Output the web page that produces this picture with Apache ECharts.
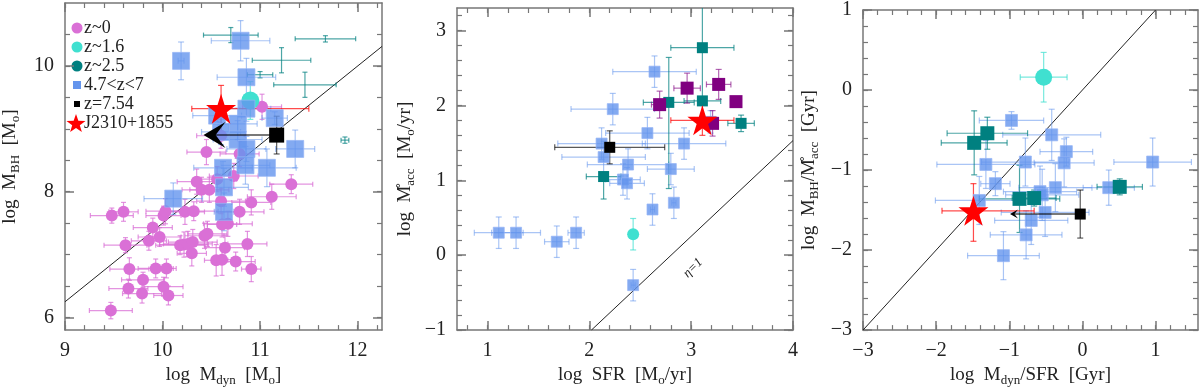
<!DOCTYPE html>
<html>
<head>
<meta charset="utf-8">
<script src="https://cdn.jsdelivr.net/npm/echarts@6/dist/echarts.min.js"></script>
<style>
html, body { margin: 0; padding: 0; background: #fff; }
#chart { width: 1200px; height: 392px; }
</style>
</head>
<body>
<div id="chart"></div>
<script>
// rows are [x, y, ex, ey] or [x, y, ex-, ex+, ey-, ey+]

// panel 1 : log Mdyn vs log MBH
const p1Local = [
  [9.47, 6.11, 0.22, 0.13], [9.48, 7.62, 0.22, 0.12], [9.60, 7.68, 0.15, 0.15], [9.62, 7.15, 0.22, 0.12],
  [9.65, 6.46, 0.20, 0.15], [9.66, 6.77, 0.20, 0.18], [9.79, 6.38, 0.20, 0.15], [9.80, 6.60, 0.22, 0.12],
  [9.86, 7.22, 0.18, 0.15], [9.90, 7.43, 0.20, 0.15], [9.93, 6.78, 0.18, 0.15], [9.97, 7.28, 0.22, 0.15],
  [10.01, 6.49, 0.20, 0.15], [10.01, 7.62, 0.18, 0.15], [10.03, 7.69, 0.20, 0.20], [10.04, 6.78, 0.10, 0.15],
  [10.06, 6.35, 0.15, 0.15], [10.18, 7.15, 0.25, 0.15], [10.22, 7.16, 0.25, 0.20], [10.23, 7.68, 0.20, 0.20],
  [10.26, 7.17, 0.25, 0.20], [10.30, 7.02, 0.15, 0.20], [10.31, 7.20, 0.25, 0.20], [10.32, 7.69, 0.25, 0.15],
  [10.35, 8.16, 0.20, 0.20], [10.40, 8.03, 0.20, 0.20], [10.43, 7.30, 0.20, 0.20], [10.46, 7.33, 0.20, 0.20],
  [10.45, 8.63, 0.20, 0.20], [10.48, 8.03, 0.20, 0.20], [10.55, 6.91, 0.12, 0.25], [10.56, 8.20, 0.20, 0.20],
  [10.60, 7.85, 0.25, 0.20], [10.60, 8.89, 0.25, 0.20], [10.61, 6.92, 0.10, 0.25], [10.61, 7.48, 0.15, 0.20],
  [10.64, 7.11, 0.20, 0.20], [10.67, 7.49, 0.25, 0.20], [10.73, 8.25, 0.25, 0.20], [10.75, 6.89, 0.20, 0.15],
  [10.79, 7.68, 0.25, 0.20], [10.79, 8.60, 0.20, 0.20], [10.87, 7.17, 0.20, 0.20], [10.91, 6.77, 0.10, 0.20],
  [10.91, 7.83, 0.20, 0.20], [11.02, 9.35, 0.20, 0.20], [11.12, 7.92, 0.25, 0.20], [11.32, 8.12, 0.22, 0.15]
];
const p1Z16 = [[10.90, 9.45, 0.05, 0.30]];
const p1Z25 = [
  [10.70, 10.49, 0.28, 0.12], [11.67, 10.43, 0.31, 0.05], [11.22, 10.09, 0.30, 0.20],
  [11.00, 9.86, 0.13, 0.05], [11.46, 9.70, 0.32, 0.20], [11.87, 8.82, 0.04, 0.05]
];
const p1HighZ = [
  [10.19, 10.08, 0.03, 0.30], [10.80, 10.40, 0.30, 0.32], [10.86, 9.82, 0.30, 0.30], [10.86, 9.32, 0.25, 0.20],
  [11.15, 9.17, 0.13, 0.10], [10.56, 9.21, 0.25, 0.10], [10.77, 9.08, 0.20, 0.25], [10.60, 8.95, 0.20, 0.20],
  [10.77, 8.83, 0.25, 0.30], [10.86, 8.68, 0.20, 0.20], [11.36, 8.68, 0.20, 0.30], [10.62, 8.38, 0.30, 0.10],
  [10.85, 8.42, 0.25, 0.30], [11.07, 8.38, 0.30, 0.30], [10.63, 8.07, 0.25, 0.30], [10.11, 7.89, 0.30, 0.25],
  [10.63, 7.68, 0.10, 0.30]
];
const p1Z754 = [[11.17, 8.90, 0, 0, 0.30, 0.30]];
const p1Z754Limit = [[11.17, 8.90, 10.42]];
const p1J2310 = [[10.60, 9.32, 0.30, 0.90, 0.43, 0.37]];
const p1Relation = [[9, 6.25], [12.25, 10.31]];

// panel 2 : log SFR vs log Macc
const p2Z16 = [[2.43, 0.28, 0.02, 0.21]];
const p2Z25 = [
  [3.11, 2.77, 0.31, 0.31, 0.70, 0.55], [2.78, 2.04, 0.25, 0.25, 1.15, 0.60], [3.11, 2.06, 0.18, 0.05],
  [3.49, 1.76, 0.13, 0.11], [2.14, 1.05, 0.17, 0.17, 0.30, 0.05]
];
const p2HighZ = [
  [2.64, 2.45, 0.41, 0.21], [2.23, 1.95, 0.41, 0.21], [2.57, 1.63, 0.41, 0.21], [2.93, 1.49, 0.41, 0.21],
  [2.12, 1.49, 0.43, 0.21], [2.14, 1.31, 0.41, 0.21], [2.38, 1.21, 0.40, 0.21], [2.80, 1.15, 0.23, 0.21],
  [2.33, 1.01, 0.17, 0.21], [2.37, 0.96, 0.17, 0.21], [2.62, 0.61, 0.02, 0.21], [2.83, 0.70, 0.02, 0.21],
  [2.43, -0.40, 0.02, 0.21], [1.11, 0.30, 0.24, 0.21], [1.28, 0.30, 0.24, 0.21], [1.68, 0.18, 0.12, 0.21],
  [1.87, 0.30, 0.08, 0.21], [3.19, 1.78, 0.05, 0.15]
];
const p2Quasars = [
  [2.96, 2.23, 0.13, 0.20], [3.27, 2.28, 0.12, 0.20], [3.44, 2.05, 0, 0], [2.69, 2.01, 0.08, 0.18],
  [3.21, 1.76, 0.02, 0.17]
];
const p2Z754 = [[2.20, 1.44, 0.54, 0.22]];
const p2J2310 = [[3.11, 1.80, 0.31, 0.20]];
const p2Eddington = [[2.02, -1], [4, 1.53]];

// panel 3 : log Mdyn/SFR vs log MBH/Macc
const p3Z16 = [[-0.53, 0.16, 0.32, 0.31]];
const p3Z25 = [
  [-1.30, -0.54, 0.55, 0.20], [-1.48, -0.66, 0.45, 0.40], [-0.86, -1.36, 0.55, 0.42],
  [-0.66, -1.35, 0.30, 0.10], [0.51, -1.21, 0.31, 0.10]
];
const p3HighZ = [
  [-0.97, -0.38, 0.44, 0.11], [-0.42, -0.56, 0.67, 0.32], [-0.22, -0.77, 0.36, 0.18], [-1.32, -0.93, 0.67, 0.30],
  [-0.78, -0.90, 0.60, 0.30], [-0.25, -0.91, 0.41, 0.30], [0.96, -0.90, 0.53, 0.30], [-1.19, -1.17, 0.20, 0.15],
  [0.36, -1.22, 0.35, 0.22], [-0.37, -1.22, 0.50, 0.30], [-0.58, -1.27, 0.50, 0.32], [-0.55, -1.31, 0.50, 0.32],
  [-0.51, -1.53, 0.60, 0.30], [-0.70, -1.63, 0.50, 0.30], [-0.77, -1.81, 0.49, 0.30], [-1.08, -2.07, 0.49, 0.30],
  [-1.41, -1.38, 0.60, 0.30]
];
const p3Z754 = [[-0.03, -1.55, 0, 0, 0.30, 0.30]];
const p3Z754Limit = [[-0.03, -1.55, -0.99]];
const p3J2310 = [[-1.49, -1.51, 0.43, 0.83, 0.38, 0.34]];
const p3OneToOne = [[-3, -3], [1, 1]];

// tick labels
const p1XLabels = [9, 10, 11, 12];
const p1YLabels = [6, 8, 10];
const p2XLabels = [1, 2, 3, 4];
const p2YLabels = [-1, 0, 1, 2, 3];
const p3XLabels = [-3, -2, -1, 0, 1];
const p3YLabels = [-3, -2, -1, 0, 1];

const COL = {
  local: '#da70d6', localErr: 'rgba(218,112,214,0.75)',
  z16: '#40e0d0', z16Err: 'rgba(64,224,208,0.7)',
  z25: '#008080', z25Err: 'rgba(0,128,128,0.7)',
  highz: '#6495ed', highzErr: 'rgba(100,149,237,0.55)',
  qso: '#800080', qsoErr: 'rgba(128,0,128,0.6)',
  black: '#000', blackErr: 'rgba(0,0,0,0.65)',
  star: '#ff0000', starErr: 'rgba(255,0,0,0.7)'
};
const SERIF = 'Liberation Serif';
const STAR = 'path://M50,0 L61.2,34.5 L97.6,34.5 L68.2,55.9 L79.4,90.5 L50,69.1 L20.6,90.5 L31.8,55.9 L2.4,34.5 L38.8,34.5 Z';

function norm(rows) {
  return rows.map(r => r.length === 4 ? [r[0], r[1], r[2], r[2], r[3], r[3]] : r.slice());
}

function range(a, b, step) {
  const out = [];
  for (let v = a; v <= b + 1e-9; v += step) out.push(Math.round(v * 1000) / 1000);
  return out;
}

const fmt = v => (v < 0 ? '\u2212' + (-v) : String(v));

// four axes per side: main (labels + long ticks), minor ticks, mirrored long, mirrored minor
function makeAxes(grid, pos, opp, min, max, labels, minors, name, nameGap) {
  const line = { show: true, onZero: false, lineStyle: { color: '#777', width: 1.5 } };
  const base = { type: 'value', gridIndex: grid, min: min, max: max, splitLine: { show: false } };
  const main = Object.assign({}, base, {
    position: pos, axisLine: line,
    axisTick: { inside: true, length: 9, customValues: labels, lineStyle: { color: '#777', width: 1.5 } },
    axisLabel: { customValues: labels, formatter: fmt, fontFamily: SERIF, fontSize: 20, color: '#222', margin: 11 },
    name: name, nameLocation: 'middle', nameGap: nameGap,
    nameTextStyle: {
      fontFamily: SERIF,
      rich: {
        t: { fontFamily: SERIF, fontSize: 19, color: '#222' },
        s: { fontFamily: SERIF, fontSize: 13, color: '#222', padding: [10, 0, 0, 0] }
      }
    }
  });
  if (pos === 'left') main.nameRotate = 90;
  const minor = Object.assign({}, base, {
    position: pos, axisLine: { show: false, onZero: false },
    axisTick: { inside: true, length: 5, customValues: minors, lineStyle: { color: '#777', width: 1.2 } },
    axisLabel: { show: false }
  });
  const mirror = Object.assign({}, base, {
    position: opp, axisLine: line,
    axisTick: { inside: true, length: 9, customValues: labels, lineStyle: { color: '#777', width: 1.5 } },
    axisLabel: { show: false }
  });
  const mirrorMinor = Object.assign({}, minor, { position: opp });
  return [main, minor, mirror, mirrorMinor];
}

function errorRender(color, capHalf) {
  return function (params, api) {
    const x = api.value(0), y = api.value(1);
    const exm = api.value(2), exp = api.value(3), eym = api.value(4), eyp = api.value(5);
    const style = { stroke: color, lineWidth: 1.2 };
    const kids = [];
    const seg = (a, b) => kids.push({ type: 'line', shape: { x1: a[0], y1: a[1], x2: b[0], y2: b[1] }, style: style });
    if (exm > 0 || exp > 0) {
      const a = api.coord([x - exm, y]), b = api.coord([x + exp, y]);
      seg(a, b);
      seg([a[0], a[1] - capHalf], [a[0], a[1] + capHalf]);
      seg([b[0], b[1] - capHalf], [b[0], b[1] + capHalf]);
    }
    if (eym > 0 || eyp > 0) {
      const a = api.coord([x, y - eym]), b = api.coord([x, y + eyp]);
      seg(a, b);
      seg([a[0] - capHalf, a[1]], [a[0] + capHalf, a[1]]);
      seg([b[0] - capHalf, b[1]], [b[0] + capHalf, b[1]]);
    }
    return { type: 'group', children: kids };
  };
}

function limitRender(w, h) {
  return function (params, api) {
    const s = api.coord([api.value(0), api.value(1)]);
    const t = api.coord([api.value(2), api.value(1)]);
    return {
      type: 'group',
      children: [
        { type: 'line', shape: { x1: s[0], y1: s[1], x2: t[0] + w * 0.5, y2: t[1] }, style: { stroke: 'rgba(0,0,0,0.7)', lineWidth: 1.5 } },
        {
          type: 'polygon',
          shape: { points: [[t[0], t[1]], [t[0] + w, t[1] - h / 2], [t[0] + w * 0.55, t[1]], [t[0] + w, t[1] + h / 2]] },
          style: { fill: '#000' }
        }
      ]
    };
  };
}

function group(axisIdx, name, rows, symbol, size, color, errColor, cap, extra) {
  const out = [{
    type: 'custom', name: name, xAxisIndex: axisIdx, yAxisIndex: axisIdx, clip: true,
    renderItem: errorRender(errColor, cap), data: norm(rows), encode: { x: 0, y: 1 }, silent: true
  }];
  if (symbol) {
    out.push(Object.assign({
      type: 'scatter', name: name, xAxisIndex: axisIdx, yAxisIndex: axisIdx,
      symbol: symbol, symbolSize: size, itemStyle: { color: color, opacity: 1 },
      data: rows.map(r => [r[0], r[1]]), silent: true
    }, extra || {}));
  }
  return out;
}

function limit(axisIdx, rows, w, h) {
  return {
    type: 'custom', xAxisIndex: axisIdx, yAxisIndex: axisIdx, renderItem: limitRender(w, h),
    data: rows, encode: { x: 0, y: 1 }, silent: true, z: 5
  };
}

function relation(axisIdx, pts) {
  return {
    type: 'line', xAxisIndex: axisIdx, yAxisIndex: axisIdx, data: pts, symbol: 'none', silent: true,
    lineStyle: { color: '#222', width: 1 }, z: 1
  };
}

const blueBorder = { itemStyle: { color: COL.highz, borderColor: 'rgba(150,180,245,0.9)', borderWidth: 1 } };

const xAxes = [].concat(
  makeAxes(0, 'bottom', 'top', 9, 12.25, p1XLabels, range(9, 12.2, 0.2), '{t|log  M}{s|dyn}{t|  [M}{s|o}{t|]}', 30),
  makeAxes(1, 'bottom', 'top', 0.7, 4, p2XLabels, range(0.8, 4, 0.2), '{t|log  SFR  [M}{s|o}{t|/yr]}', 30),
  makeAxes(2, 'bottom', 'top', -3, 1.58, p3XLabels, range(-3, 1.4, 0.2), '{t|log  M}{s|dyn}{t|/SFR  [Gyr]}', 30)
);
const yAxes = [].concat(
  makeAxes(0, 'left', 'right', 5.8, 11, p1YLabels, range(6, 10.5, 0.5), '{t|log  M}{s|BH}{t|  [M}{s|o}{t|]}', 43),
  makeAxes(1, 'left', 'right', -1, 3.3, p2YLabels, range(-1, 3.2, 0.2), '{t|log  M\u030A}{s|acc}{t|  [M}{s|o}{t|/yr]}', 40),
  makeAxes(2, 'left', 'right', -3, 1, p3YLabels, range(-3, 1, 0.2), '{t|log  M}{s|BH}{t|/M\u030A}{s|acc}{t|  [Gyr]}', 42)
);

const series = [].concat(
  relation(0, p1Relation),
  group(0, 'z~0', p1Local, 'circle', 12, COL.local, COL.localErr, 2.5),
  group(0, 'z~2.5', p1Z25, null, 0, COL.z25, COL.z25Err, 2.5),
  group(0, 'z~1.6', p1Z16, 'circle', 18, COL.z16, COL.z16Err, 3),
  group(0, '4.7<z<7', p1HighZ, 'rect', 17, COL.highz, COL.highzErr, 3, blueBorder),
  group(0, 'z=7.54', p1Z754, 'rect', 15, COL.black, COL.blackErr, 3),
  limit(0, p1Z754Limit, 22, 26),
  group(0, 'J2310+1855', p1J2310, STAR, 30, COL.star, COL.starErr, 3),

  relation(4, p2Eddington),
  group(4, 'z~1.6', p2Z16, 'circle', 12, COL.z16, COL.z16Err, 3),
  group(4, '4.7<z<7', p2HighZ, 'rect', 11, COL.highz, COL.highzErr, 3, blueBorder),
  group(4, 'z~2.5', p2Z25, 'rect', 11, COL.z25, COL.z25Err, 3),
  group(4, 'qso', p2Quasars, 'rect', 13, COL.qso, COL.qsoErr, 3),
  group(4, 'z=7.54', p2Z754, 'rect', 11, COL.black, COL.blackErr, 3),
  group(4, 'J2310+1855', p2J2310, STAR, 30, COL.star, COL.starErr, 3),

  relation(8, p3OneToOne),
  group(8, 'z~1.6', p3Z16, 'circle', 17, COL.z16, COL.z16Err, 3),
  group(8, '4.7<z<7', p3HighZ, 'rect', 12, COL.highz, COL.highzErr, 3, blueBorder),
  group(8, 'z~2.5', p3Z25, 'rect', 14, COL.z25, COL.z25Err, 3),
  group(8, 'z=7.54', p3Z754, 'rect', 11, COL.black, COL.blackErr, 3),
  limit(8, p3Z754Limit, 8, 9),
  group(8, 'J2310+1855', p3J2310, STAR, 30, COL.star, COL.starErr, 3)
);

// legend drawn by hand to match the marker sizes
function starPoints(cx, cy, R) {
  const pts = [];
  for (let k = 0; k < 10; k++) {
    const a = -Math.PI / 2 + k * Math.PI / 5;
    const rr = k % 2 ? R * 0.4 : R;
    pts.push([cx + rr * Math.cos(a), cy + rr * Math.sin(a)]);
  }
  return pts;
}
const legendRows = [
  { label: 'z~0', shape: 'circle', r: 5.5, color: COL.local },
  { label: 'z~1.6', shape: 'circle', r: 5.5, color: COL.z16 },
  { label: 'z~2.5', shape: 'circle', r: 5.5, color: COL.z25 },
  { label: '4.7<z<7', shape: 'rect', r: 4, color: COL.highz },
  { label: 'z=7.54', shape: 'rect', r: 3, color: '#000' },
  { label: 'J2310+1855', shape: 'star', r: 10, color: COL.star }
];
const graphic = [];
legendRows.forEach((d, i) => {
  const cx = 77, cy = 28 + i * 19;
  if (d.shape === 'circle') graphic.push({ type: 'circle', shape: { cx: cx, cy: cy, r: d.r }, style: { fill: d.color } });
  else if (d.shape === 'rect') graphic.push({ type: 'rect', shape: { x: cx - d.r, y: cy - d.r, width: 2 * d.r, height: 2 * d.r }, style: { fill: d.color } });
  else graphic.push({ type: 'polygon', shape: { points: starPoints(cx - 1, cy + 1, d.r) }, style: { fill: d.color } });
  graphic.push({ type: 'text', x: 84, y: cy, style: { text: d.label, font: '18px ' + SERIF, fill: '#222', verticalAlign: 'middle' } });
});
graphic.push({ type: 'text', x: 693, y: 268, rotation: Math.PI / 4, style: { text: '\u03b7=1', font: 'italic 13px ' + SERIF, fill: '#222', align: 'center', verticalAlign: 'middle' } });

const chart = echarts.init(document.getElementById('chart'));
chart.setOption({
  animation: false,
  backgroundColor: '#fff',
  grid: [
    { left: 57, top: 3, width: 325, height: 339 },
    { left: 457, top: 8, width: 336, height: 337 },
    { left: 863, top: 7, width: 335, height: 335 }
  ],
  xAxis: xAxes,
  yAxis: yAxes,
  graphic: graphic,
  series: series
});
</script>
</body>
</html>
